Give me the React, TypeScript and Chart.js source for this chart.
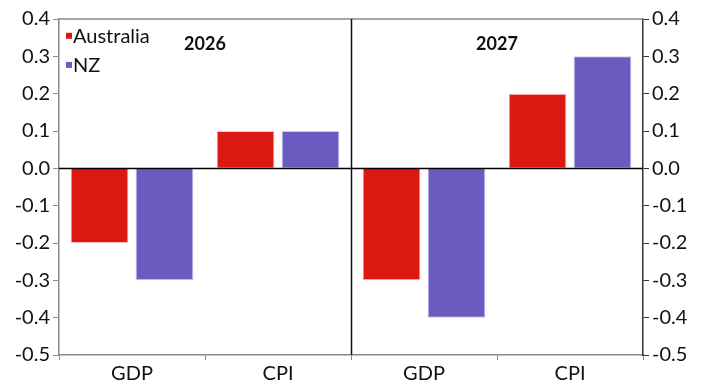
import React, { useEffect, useRef } from "react";
import { Chart, registerables } from "chart.js";

Chart.register(...registerables);

// Forecast revisions by year and measure
const categories = ["GDP", "CPI", "GDP", "CPI"];
const yearLabels = ["2026", "2027"];
const australia = [-0.2, 0.1, -0.3, 0.2];
const nz = [-0.3, 0.1, -0.4, 0.3];
const yMin = -0.5;
const yMax = 0.4;
const yStep = 0.1;

const RED = "#db1812";
const PURPLE = "#6a5bc1";
const FONT = "Lato, 'Noto Sans', sans-serif";

const overlayPlugin = {
  id: "overlay",
  afterDatasetsDraw(chart: any) {
    const { ctx, chartArea, scales } = chart;
    const x = scales.x;
    const y = scales.y;
    ctx.save();

    // top frame line
    ctx.strokeStyle = "#8a8a8a";
    ctx.lineWidth = 1.5;
    ctx.beginPath();
    ctx.moveTo(chartArea.left, chartArea.top);
    ctx.lineTo(chartArea.right, chartArea.top);
    ctx.stroke();

    // zero line
    const y0 = Math.round(y.getPixelForValue(0)) + 0.5;
    ctx.strokeStyle = "#000";
    ctx.lineWidth = 1.5;
    ctx.beginPath();
    ctx.moveTo(chartArea.left, y0);
    ctx.lineTo(chartArea.right, y0);
    ctx.stroke();

    // year divider
    const xd = Math.round(x.getPixelForValue(1.5)) + 0.5;
    ctx.strokeStyle = "#111";
    ctx.lineWidth = 1.5;
    ctx.beginPath();
    ctx.moveTo(xd, chartArea.top);
    ctx.lineTo(xd, chartArea.bottom);
    ctx.stroke();

    // year headings
    ctx.fillStyle = "#111";
    ctx.font = `bold 18px ${FONT}`;
    ctx.textAlign = "center";
    ctx.textBaseline = "middle";
    yearLabels.forEach((label, i) => {
      ctx.fillText(label, x.getPixelForValue(i * 2 + 0.5), y.getPixelForValue(0.332));
    });

    // legend
    const items = [
      { label: chart.data.datasets[0].label, color: RED, v: 0.355 },
      { label: chart.data.datasets[1].label, color: PURPLE, v: 0.277 },
    ];
    ctx.font = `20px ${FONT}`;
    ctx.textAlign = "left";
    items.forEach((it) => {
      const cy = y.getPixelForValue(it.v);
      ctx.fillStyle = it.color;
      ctx.fillRect(chartArea.left + 7, cy - 3, 6, 6);
      ctx.fillStyle = "#111";
      ctx.fillText(it.label, chartArea.left + 14, cy + 1);
    });

    ctx.restore();
  },
};

export default function App() {
  const canvasRef = useRef<HTMLCanvasElement>(null);

  useEffect(() => {
    document.body.style.margin = "0";
    const canvas = canvasRef.current;
    if (!canvas) return;

    const yTicks = {
      color: "#111",
      font: { family: FONT, size: 20 },
      padding: 3,
      stepSize: yStep,
      callback: (v: any) => Number(v).toFixed(1),
    };

    const chart = new Chart(canvas, {
      type: "bar",
      data: {
        labels: categories,
        datasets: [
          {
            label: "Australia",
            data: australia,
            backgroundColor: RED,
            borderColor: "rgba(255,190,190,0.9)",
            borderWidth: 1,
            categoryPercentage: 0.89,
            barPercentage: 0.89,
          },
          {
            label: "NZ",
            data: nz,
            backgroundColor: PURPLE,
            borderColor: "rgba(200,195,240,0.9)",
            borderWidth: 1,
            categoryPercentage: 0.89,
            barPercentage: 0.89,
          },
        ],
      },
      options: {
        responsive: false,
        animation: false,
        devicePixelRatio: 1,
        layout: { padding: { top: 19, left: 0, right: 0, bottom: 0 } },
        plugins: {
          legend: { display: false },
          tooltip: { enabled: false },
          title: { display: false },
        },
        scales: {
          x: {
            grid: {
              offset: true,
              drawOnChartArea: false,
              tickLength: 5,
              color: "#8a8a8a",
            },
            border: { color: "#8a8a8a", width: 1.5 },
            ticks: {
              color: "#111",
              font: { family: FONT, size: 20 },
              padding: 2,
              maxRotation: 0,
            },
            afterFit: (s: any) => {
              s.height = 30;
            },
          },
          y: {
            position: "left",
            min: yMin,
            max: yMax,
            grid: { drawOnChartArea: false, tickLength: 6, color: "#8a8a8a" },
            border: { color: "#8a8a8a", width: 1.5 },
            ticks: yTicks,
            afterFit: (s: any) => {
              s.width = 59;
            },
          },
          y2: {
            position: "right",
            min: yMin,
            max: yMax,
            grid: { drawOnChartArea: false, tickLength: 6, color: "#333" },
            border: { color: "#333", width: 1.5 },
            ticks: yTicks,
            afterFit: (s: any) => {
              s.width = 60;
            },
          },
        },
      },
      plugins: [overlayPlugin],
    });

    return () => chart.destroy();
  }, []);

  return (
    <div style={{ width: 703, height: 385, background: "#fff" }}>
      <canvas ref={canvasRef} width={703} height={385} />
    </div>
  );
}
